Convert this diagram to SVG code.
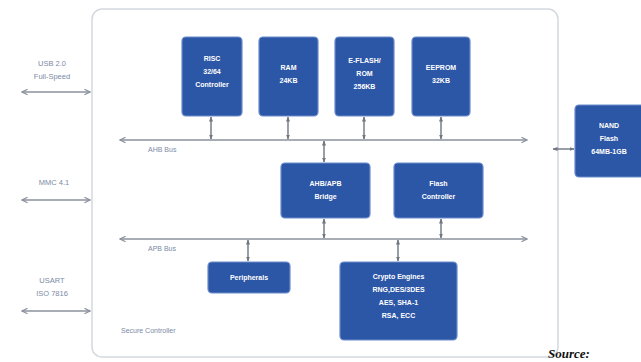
<svg xmlns="http://www.w3.org/2000/svg" width="641" height="362" viewBox="0 0 641 362">
<style>
.blk{fill:#2c56a6;stroke:#6b8bcc;stroke-width:1.2}
.bt{font-family:"Liberation Sans",Arial,sans-serif;font-size:7px;font-weight:bold;fill:#ffffff;text-anchor:middle}
.lbl{font-family:"Liberation Sans",Arial,sans-serif;font-size:7px;fill:#7c8aa6}
.ext{font-family:"Liberation Sans",Arial,sans-serif;font-size:7.5px;fill:#7c8aa6;text-anchor:middle}
.bus{stroke:#8a919c;stroke-width:1.6;fill:none}
.ln{stroke:#6e7680;stroke-width:1.4;fill:none}
</style>
<defs>
<marker id="ah" viewBox="0 0 10 10" refX="9" refY="5" markerWidth="7" markerHeight="7" orient="auto-start-reverse" markerUnits="userSpaceOnUse">
<path d="M1,1 L9,5 L1,9" fill="none" stroke="#8a919c" stroke-width="1.6"/>
</marker>
<marker id="sa" viewBox="0 0 10 10" refX="9" refY="5" markerWidth="5" markerHeight="5" orient="auto-start-reverse" markerUnits="userSpaceOnUse">
<path d="M0,1 L10,5 L0,9 Z" fill="#6e7680"/>
</marker>
</defs>
<rect width="641" height="362" fill="#ffffff"/>
<g id="secure-controller">
<rect x="92" y="9" width="466" height="348" rx="10" fill="#ffffff" stroke="#d4d8de" stroke-width="1.5"/>
<text class="lbl" x="121" y="333">Secure Controller</text>
</g>
<g id="connectors">
<line class="bus" x1="120" y1="140" x2="527" y2="140" marker-start="url(#ah)" marker-end="url(#ah)"/>
<line class="bus" x1="120" y1="239" x2="527" y2="239" marker-start="url(#ah)" marker-end="url(#ah)"/>
<line class="ln" x1="211" y1="117" x2="211" y2="139" marker-start="url(#sa)" marker-end="url(#sa)"/>
<line class="ln" x1="288" y1="117" x2="288" y2="139" marker-start="url(#sa)" marker-end="url(#sa)"/>
<line class="ln" x1="364" y1="117" x2="364" y2="139" marker-start="url(#sa)" marker-end="url(#sa)"/>
<line class="ln" x1="441" y1="117" x2="441" y2="139" marker-start="url(#sa)" marker-end="url(#sa)"/>
<line class="ln" x1="324" y1="141" x2="324" y2="162" marker-start="url(#sa)" marker-end="url(#sa)"/>
<line class="ln" x1="324" y1="219" x2="324" y2="238" marker-start="url(#sa)" marker-end="url(#sa)"/>
<line class="ln" x1="441" y1="219" x2="441" y2="238" marker-start="url(#sa)" marker-end="url(#sa)"/>
<line class="ln" x1="248" y1="240" x2="248" y2="261" marker-start="url(#sa)" marker-end="url(#sa)"/>
<line class="ln" x1="398" y1="240" x2="398" y2="261" marker-start="url(#sa)" marker-end="url(#sa)"/>
<line class="ln" x1="553" y1="149" x2="574" y2="149" marker-start="url(#sa)" marker-end="url(#sa)"/>
<line class="bus" x1="22" y1="92" x2="90" y2="92" marker-start="url(#ah)" marker-end="url(#ah)"/>
<line class="bus" x1="22" y1="200" x2="90" y2="200" marker-start="url(#ah)" marker-end="url(#ah)"/>
<line class="bus" x1="22" y1="311" x2="90" y2="311" marker-start="url(#ah)" marker-end="url(#ah)"/>
<text class="lbl" x="148" y="152">AHB Bus</text>
<text class="lbl" x="148" y="251">APB Bus</text>
</g>
<g id="usb">
<text class="ext" x="52" y="66">USB 2.0</text>
<text class="ext" x="52" y="79">Full-Speed</text>
</g>
<g id="mmc">
<text class="ext" x="54" y="185">MMC 4.1</text>
</g>
<g id="usart">
<text class="ext" x="52" y="283">USART</text>
<text class="ext" x="52" y="296">ISO 7816</text>
</g>
<g id="risc">
<rect class="blk" x="182" y="37" width="60" height="79" rx="4"/>
<text class="bt" x="212" y="61">RISC</text>
<text class="bt" x="212" y="74">32/64</text>
<text class="bt" x="212" y="87">Controller</text>
</g>
<g id="ram">
<rect class="blk" x="259" y="37" width="59" height="79" rx="4"/>
<text class="bt" x="288.5" y="70">RAM</text>
<text class="bt" x="288.5" y="83">24KB</text>
</g>
<g id="eflash">
<rect class="blk" x="335" y="37" width="59" height="79" rx="4"/>
<text class="bt" x="364.5" y="63">E-FLASH/</text>
<text class="bt" x="364.5" y="76">ROM</text>
<text class="bt" x="364.5" y="89">256KB</text>
</g>
<g id="eeprom">
<rect class="blk" x="412" y="37" width="58" height="79" rx="4"/>
<text class="bt" x="441" y="70">EEPROM</text>
<text class="bt" x="441" y="83">32KB</text>
</g>
<g id="bridge">
<rect class="blk" x="281" y="163" width="89" height="55" rx="4"/>
<text class="bt" x="325.5" y="186">AHB/APB</text>
<text class="bt" x="325.5" y="199">Bridge</text>
</g>
<g id="flash-controller">
<rect class="blk" x="394" y="163" width="89" height="55" rx="4"/>
<text class="bt" x="438.5" y="186">Flash</text>
<text class="bt" x="438.5" y="199">Controller</text>
</g>
<g id="peripherals">
<rect class="blk" x="208" y="262" width="82" height="31" rx="4"/>
<text class="bt" x="249" y="280">Peripherals</text>
</g>
<g id="crypto">
<rect class="blk" x="340" y="262" width="117" height="78" rx="4"/>
<text class="bt" x="398.5" y="279">Crypto Engines</text>
<text class="bt" x="398.5" y="292">RNG,DES/3DES</text>
<text class="bt" x="398.5" y="305">AES, SHA-1</text>
<text class="bt" x="398.5" y="318">RSA, ECC</text>
</g>
<g id="nand">
<rect class="blk" x="575" y="105" width="72" height="72" rx="4"/>
<text class="bt" x="609" y="128">NAND</text>
<text class="bt" x="609" y="141">Flash</text>
<text class="bt" x="609" y="154">64MB-1GB</text>
</g>
<g id="source">
<text x="548" y="358" font-family="Liberation Serif,'Times New Roman',serif" font-style="italic" font-weight="bold" font-size="13" fill="#111111">Source:</text>
</g>
</svg>
